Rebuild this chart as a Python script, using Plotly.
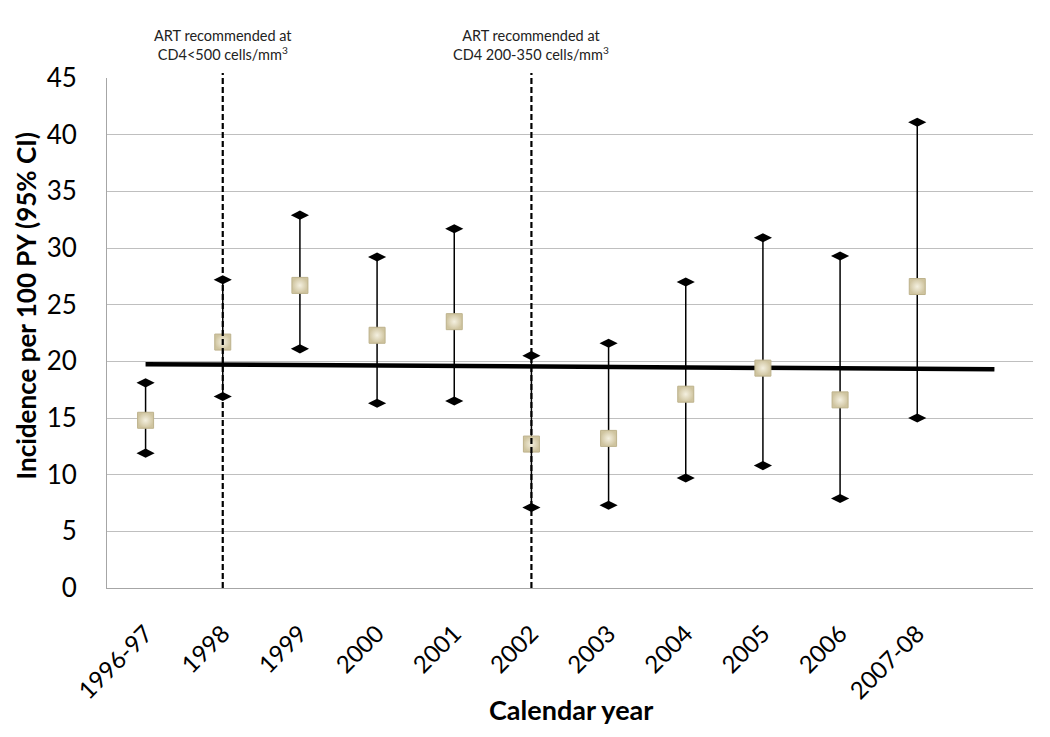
import plotly.graph_objects as go

categories = ["1996-97", "1998", "1999", "2000", "2001", "2002", "2003",
              "2004", "2005", "2006", "2007-08"]
incidence = [14.8, 21.7, 26.7, 22.3, 23.5, 12.7, 13.2, 17.1, 19.4, 16.6, 26.6]
ci_upper = [18.1, 27.2, 32.9, 29.2, 31.7, 20.5, 21.6, 27.0, 30.9, 29.3, 41.1]
ci_lower = [11.9, 16.9, 21.1, 16.3, 16.5, 7.1, 7.3, 9.7, 10.8, 7.9, 15.0]
trend_x = [0, 11]
trend_y = [19.75, 19.3]
guideline_cats = [1, 5]
guideline_texts = ["ART recommended at<br>CD4&lt;500 cells/mm<sup>3</sup>",
                   "ART recommended at<br>CD4 200-350 cells/mm<sup>3</sup>"]

xs = list(range(len(categories)))
font = "Lato, 'Open Sans', sans-serif"

fig = go.Figure()

fig.add_trace(go.Scatter(x=trend_x, y=trend_y, mode="lines",
                         line=dict(color="black", width=4.5),
                         hoverinfo="skip", showlegend=False))

fig.add_trace(go.Scatter(
    x=xs, y=incidence, mode="markers",
    marker=dict(size=1, color="rgba(0,0,0,0)"),
    error_y=dict(type="data", symmetric=False,
                 array=[u - v for u, v in zip(ci_upper, incidence)],
                 arrayminus=[v - l for v, l in zip(incidence, ci_lower)],
                 color="black", thickness=1.5, width=0),
    showlegend=False, hoverinfo="skip"))

fig.add_trace(go.Scatter(x=xs + xs, y=ci_upper + ci_lower, mode="markers",
                         marker=dict(symbol="diamond-wide", size=13, color="black"),
                         showlegend=False))

fig.add_trace(go.Scatter(
    x=xs, y=incidence, mode="markers",
    marker=dict(symbol="square", size=16, color="#cfc49f",
                gradient=dict(type="radial", color="#f4f0e0"),
                line=dict(color="#bdb28c", width=1)),
    showlegend=False))

shapes = []
annotations = []
for c, t in zip(guideline_cats, guideline_texts):
    shapes.append(dict(type="line", xref="x", yref="paper", x0=c, x1=c,
                       y0=0, y1=1.01, line=dict(color="black", width=2.2, dash="6px,3px")))
    annotations.append(dict(x=c, y=1.025, xref="x", yref="paper", text=t,
                            showarrow=False, yanchor="bottom", xanchor="center",
                            font=dict(family=font, size=14.5, color="#222")))

annotations.append(dict(x=-0.088, y=0.553, xref="paper", yref="paper",
                        xanchor="center", yanchor="middle",
                        text="<b>Incidence per 100 PY (95% CI)</b>", textangle=-90,
                        showarrow=False, font=dict(family=font, size=26, color="black")))
annotations.append(dict(x=0.501, y=-0.239, xref="paper", yref="paper",
                        xanchor="center", yanchor="middle",
                        text="<b>Calendar year</b>",
                        showarrow=False, font=dict(family=font, size=27, color="black")))

fig.update_layout(
    width=1050, height=737,
    margin=dict(l=99, r=25, t=70, b=157),
    paper_bgcolor="white", plot_bgcolor="white",
    font=dict(family=font, color="black"),
    shapes=shapes, annotations=annotations,
    xaxis=dict(range=[-0.5, 11.5], tickmode="array", tickvals=xs, ticktext=categories,
               tickangle=-45, tickfont=dict(size=24, family=font), showgrid=False,
               zeroline=False, showline=True, linecolor="#a6a6a6", linewidth=1,
               ticks="", ticklabelstandoff=21, automargin=False),
    yaxis=dict(range=[0, 45], dtick=5, showgrid=True, gridcolor="#bfbfbf",
               gridwidth=1, zeroline=False, showline=True, linecolor="#a6a6a6",
               linewidth=1, ticks="", tickfont=dict(size=26, family=font),
               ticklabelstandoff=24, automargin=False),
)

fig.write_html("out.html")
